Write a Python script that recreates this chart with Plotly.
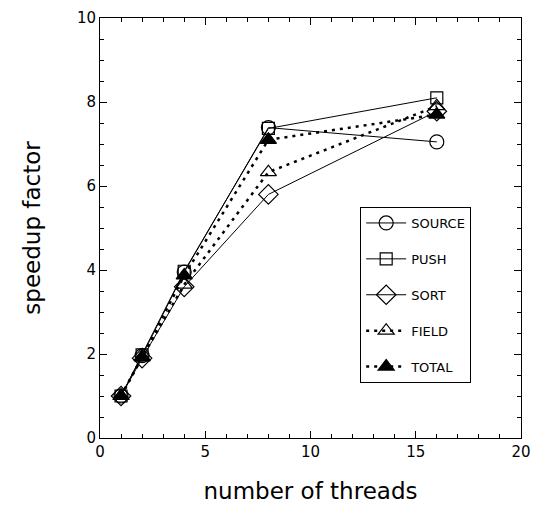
import plotly.graph_objects as go

# thread counts and speedup per component
threads = [1, 2, 4, 8, 16]
source = [1.0, 1.96, 3.95, 7.39, 7.05]
push = [1.0, 1.98, 3.97, 7.37, 8.1]
sort_ = [1.0, 1.9, 3.6, 5.8, 7.78]
field = [1.0, 1.92, 3.65, 6.33, 7.9]
total = [1.0, 1.93, 3.87, 7.1, 7.7]

series = [
    ("SOURCE", source, "circle-open", 14, "solid", 1),
    ("PUSH", push, "square-open", 12, "solid", 1),
    ("SORT", sort_, "diamond-open", 15, "solid", 1),
    ("FIELD", field, "triangle-up-open", 14, "3px,5px", 2.5),
    ("TOTAL", total, "triangle-up", 14, "3px,5px", 2.5),
]

fig = go.Figure()
for i, (name, vals, sym, size, dash, width) in enumerate(series):
    fig.add_trace(go.Scatter(
        x=threads, y=vals, name=name, mode="lines+markers",
        legendgroup=f"g{i}",
        line=dict(color="black", width=width, dash=dash),
        marker=dict(symbol=sym, size=size, color="black",
                    line=dict(color="black", width=1.2)),
    ))

# invisible trace so the mirrored tick axes (top/right) get drawn
fig.add_trace(go.Scatter(x=[None], y=[None], xaxis="x2", yaxis="y2",
                         showlegend=False, hoverinfo="skip"))

font = "DejaVu Sans, Verdana, sans-serif"
tickfont = dict(size=15, color="black", family=font)
titlefont = dict(size=23, color="black", family=font)

fig.update_layout(
    width=533, height=510,
    margin=dict(l=100, r=12, t=18, b=72),
    plot_bgcolor="white", paper_bgcolor="white",
    font=dict(family=font, color="black"),
    xaxis=dict(range=[0, 20], dtick=5, showline=True, linecolor="black",
               linewidth=1, mirror=True, ticks="inside", ticklen=7,
               tickcolor="black", showgrid=False, zeroline=False,
               automargin=False, tickfont=tickfont,
               minor=dict(dtick=1, ticks="inside", ticklen=4, tickcolor="black"),
               title=dict(text="number of threads", font=titlefont, standoff=22)),
    yaxis=dict(range=[0, 10], dtick=2, showline=True, linecolor="black",
               linewidth=1, mirror=True, ticks="inside", ticklen=7,
               tickcolor="black", showgrid=False, zeroline=False,
               automargin=False, tickfont=tickfont,
               minor=dict(dtick=0.5, ticks="inside", ticklen=4, tickcolor="black"),
               title=dict(text="speedup factor", font=titlefont, standoff=29)),
    xaxis2=dict(range=[0, 20], dtick=5, overlaying="x", side="top",
                ticks="inside", ticklen=7, tickcolor="black",
                showticklabels=False, showgrid=False, zeroline=False,
                automargin=False,
                minor=dict(dtick=1, ticks="inside", ticklen=4, tickcolor="black")),
    yaxis2=dict(range=[0, 10], dtick=2, overlaying="y", side="right",
                ticks="inside", ticklen=7, tickcolor="black",
                showticklabels=False, showgrid=False, zeroline=False,
                automargin=False,
                minor=dict(dtick=0.5, ticks="inside", ticklen=4, tickcolor="black")),
    legend=dict(x=0.618, y=0.55, xanchor="left", yanchor="top",
                bordercolor="black", borderwidth=1, bgcolor="white",
                font=dict(size=13, family=font), tracegroupgap=16,
                itemwidth=40),
)

# drop the page's default body margin so the figure sits at the window corner
fig.write_html("out.html", config={"displayModeBar": False},
               post_script="document.body.style.margin='0';")
